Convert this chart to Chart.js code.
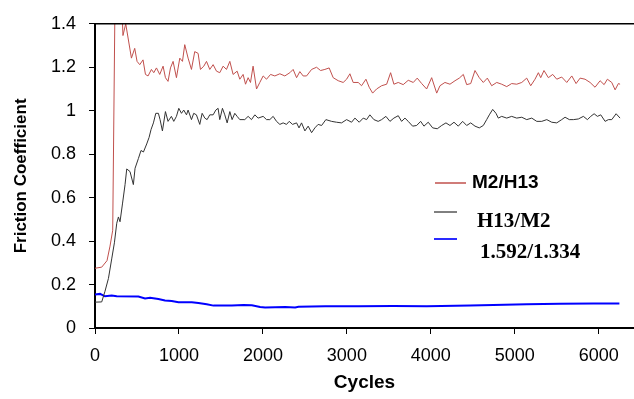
<!DOCTYPE html>
<html>
<head>
<meta charset="utf-8">
<script src="https://cdn.jsdelivr.net/npm/chart.js@4/dist/chart.umd.min.js"></script>
<style>
  html, body { margin: 0; padding: 0; background: #fff; }
  #wrap { width: 634px; height: 399px; }
</style>
</head>
<body>
<div id="wrap"><canvas id="frictionChart" width="634" height="399"></canvas></div>
<script>
// values (cycles / friction coefficient)
const redCycles = [0, 80, 143, 179, 211, 238, 270, 310, 333, 366, 434, 473, 501, 533, 572, 601, 632, 672, 700, 732, 771, 811, 839, 870, 899, 930, 970, 1010, 1042, 1069, 1109, 1149, 1188, 1228, 1256, 1296, 1328, 1367, 1407, 1447, 1486, 1526, 1566, 1606, 1645, 1693, 1725, 1764, 1793, 1824, 1852, 1883, 1924, 1963, 2003, 2043, 2091, 2142, 2202, 2261, 2321, 2360, 2401, 2440, 2479, 2520, 2580, 2639, 2687, 2738, 2789, 2837, 2897, 2956, 2997, 3036, 3075, 3135, 3175, 3227, 3266, 3307, 3354, 3414, 3474, 3521, 3560, 3612, 3671, 3731, 3791, 3838, 3891, 3950, 4010, 4070, 4109, 4168, 4228, 4288, 4339, 4387, 4427, 4475, 4526, 4577, 4625, 4673, 4725, 4785, 4844, 4904, 4963, 5023, 5083, 5142, 5190, 5241, 5281, 5309, 5348, 5400, 5452, 5500, 5559, 5619, 5679, 5730, 5778, 5837, 5897, 5956, 6016, 6064, 6103, 6155, 6195, 6234, 6254];
const redValues = [0.275, 0.28, 0.31, 0.377, 0.45, 1.5, 1.6, 1.6, 1.346, 1.40, 1.242, 1.287, 1.227, 1.212, 1.234, 1.167, 1.160, 1.19, 1.175, 1.197, 1.167, 1.205, 1.152, 1.135, 1.197, 1.227, 1.152, 1.242, 1.227, 1.304, 1.242, 1.19, 1.272, 1.264, 1.19, 1.205, 1.227, 1.19, 1.212, 1.182, 1.175, 1.205, 1.19, 1.227, 1.167, 1.182, 1.145, 1.167, 1.122, 1.152, 1.13, 1.205, 1.10, 1.13, 1.16, 1.145, 1.167, 1.16, 1.17, 1.16, 1.175, 1.19, 1.152, 1.18, 1.16, 1.16, 1.19, 1.20, 1.185, 1.19, 1.197, 1.152, 1.138, 1.13, 1.145, 1.17, 1.13, 1.13, 1.115, 1.145, 1.108, 1.081, 1.10, 1.115, 1.122, 1.175, 1.122, 1.13, 1.12, 1.14, 1.13, 1.15, 1.125, 1.10, 1.152, 1.081, 1.115, 1.13, 1.122, 1.138, 1.15, 1.167, 1.12, 1.125, 1.185, 1.152, 1.13, 1.15, 1.115, 1.13, 1.122, 1.111, 1.125, 1.122, 1.13, 1.15, 1.115, 1.145, 1.175, 1.152, 1.185, 1.152, 1.167, 1.145, 1.155, 1.13, 1.16, 1.125, 1.15, 1.145, 1.13, 1.108, 1.138, 1.12, 1.145, 1.13, 1.096, 1.125, 1.122];

const blackCycles = [0, 80, 119, 160, 199, 231, 259, 279, 298, 327, 358, 378, 417, 457, 477, 517, 548, 577, 616, 644, 668, 696, 724, 755, 775, 803, 839, 870, 910, 938, 970, 998, 1030, 1057, 1090, 1109, 1149, 1176, 1208, 1248, 1276, 1308, 1335, 1367, 1407, 1439, 1466, 1486, 1518, 1546, 1574, 1606, 1633, 1665, 1693, 1725, 1784, 1824, 1864, 1904, 1943, 2003, 2043, 2082, 2122, 2162, 2202, 2241, 2281, 2313, 2353, 2401, 2430, 2460, 2500, 2539, 2580, 2619, 2658, 2699, 2750, 2818, 2877, 2937, 2997, 3056, 3096, 3147, 3195, 3235, 3274, 3322, 3373, 3414, 3465, 3513, 3560, 3612, 3652, 3692, 3731, 3783, 3831, 3879, 3918, 3969, 4022, 4077, 4129, 4180, 4228, 4276, 4327, 4379, 4427, 4475, 4526, 4577, 4625, 4665, 4697, 4737, 4776, 4804, 4844, 4904, 4963, 5023, 5083, 5142, 5202, 5262, 5321, 5381, 5440, 5500, 5559, 5599, 5650, 5698, 5757, 5817, 5865, 5905, 5945, 5984, 6024, 6076, 6115, 6155, 6207, 6254];
const blackValues = [0.119, 0.12, 0.169, 0.228, 0.318, 0.392, 0.482, 0.511, 0.489, 0.571, 0.66, 0.732, 0.72, 0.66, 0.735, 0.78, 0.817, 0.81, 0.847, 0.877, 0.914, 0.944, 0.988, 0.988, 0.959, 0.907, 0.996, 0.951, 0.974, 0.951, 0.974, 1.011, 0.988, 1.003, 0.981, 1.003, 0.959, 0.988, 0.981, 0.937, 0.988, 0.966, 0.959, 0.981, 0.981, 1.003, 1.011, 0.959, 1.011, 0.981, 0.944, 0.996, 0.959, 0.988, 0.974, 0.959, 0.959, 0.974, 0.959, 0.981, 0.966, 0.974, 0.959, 0.959, 0.974, 0.951, 0.937, 0.944, 0.937, 0.951, 0.937, 0.944, 0.921, 0.944, 0.907, 0.929, 0.899, 0.921, 0.937, 0.932, 0.959, 0.951, 0.947, 0.944, 0.959, 0.947, 0.966, 0.947, 0.966, 0.959, 0.981, 0.959, 0.951, 0.959, 0.974, 0.951, 0.966, 0.977, 0.951, 0.966, 0.951, 0.929, 0.932, 0.951, 0.929, 0.947, 0.921, 0.917, 0.932, 0.944, 0.932, 0.947, 0.929, 0.951, 0.932, 0.944, 0.929, 0.921, 0.932, 0.959, 0.981, 1.006, 0.988, 0.966, 0.974, 0.966, 0.974, 0.966, 0.97, 0.959, 0.966, 0.951, 0.951, 0.959, 0.947, 0.944, 0.959, 0.97, 0.959, 0.959, 0.962, 0.974, 0.959, 0.974, 0.986, 0.974, 0.981, 0.951, 0.959, 0.959, 0.986, 0.966];

const blueCycles = [0, 60, 119, 199, 259, 517, 596, 656, 755, 834, 914, 994, 1153, 1232, 1331, 1411, 1630, 1769, 1868, 1967, 2026, 2265, 2384, 2424, 2742, 3140, 3550, 3950, 4467, 4744, 5142, 5539, 5936, 6246];
const blueValues = [0.154, 0.157, 0.146, 0.149, 0.146, 0.145, 0.136, 0.139, 0.133, 0.127, 0.124, 0.119, 0.119, 0.115, 0.109, 0.103, 0.103, 0.106, 0.105, 0.097, 0.094, 0.097, 0.094, 0.098, 0.10, 0.10, 0.101, 0.10, 0.103, 0.106, 0.109, 0.112, 0.113, 0.113];

const seriesNames = ['M2/H13', 'H13/M2', '1.592/1.334'];
const xTickValues = [0, 1000, 2000, 3000, 4000, 5000, 6000];
const yTickValues = [0, 0.2, 0.4, 0.6, 0.8, 1, 1.2, 1.4];

function toPoints(xs, ys) {
  return xs.map((x, i) => ({ x: x, y: ys[i] }));
}

// legend sits inside the plot, drawn by hand like the original
const legendPlugin = {
  id: 'insideLegend',
  afterDraw(chart) {
    const ctx = chart.ctx;
    const items = [
      { text: seriesNames[0], color: '#c0504d', width: 1.5, y: 183, x1: 435, x2: 466, tx: 472, base: 188, font: 'bold 19px "Liberation Sans", Arial, sans-serif' },
      { text: seriesNames[1], color: '#000000', width: 1, y: 212, x1: 434, x2: 457, tx: 477, base: 227, font: 'bold 21px "Liberation Serif", "Times New Roman", serif' },
      { text: seriesNames[2], color: '#2a2aff', width: 2, y: 239, x1: 434, x2: 457, tx: 480, base: 258, font: 'bold 21px "Liberation Serif", "Times New Roman", serif' }
    ];
    ctx.save();
    items.forEach(it => {
      ctx.strokeStyle = it.color;
      ctx.lineWidth = it.width;
      ctx.beginPath();
      ctx.moveTo(it.x1, it.y);
      ctx.lineTo(it.x2, it.y);
      ctx.stroke();
      ctx.fillStyle = '#000';
      ctx.font = it.font;
      ctx.textBaseline = 'alphabetic';
      ctx.fillText(it.text, it.tx, it.base);
    });
    // top frame line
    const area = chart.chartArea;
    ctx.strokeStyle = '#000';
    ctx.lineWidth = 1.5;
    ctx.beginPath();
    ctx.moveTo(area.left, area.top);
    ctx.lineTo(chart.width, area.top);
    ctx.stroke();
    ctx.restore();
  }
};

const tickFont = { family: '"Liberation Sans", Arial, sans-serif', size: 18 };

new Chart(document.getElementById('frictionChart'), {
  type: 'line',
  data: {
    datasets: [
      { label: seriesNames[0], data: toPoints(redCycles, redValues), borderColor: '#c0504d', borderWidth: 1, pointRadius: 0, tension: 0 },
      { label: seriesNames[1], data: toPoints(blackCycles, blackValues), borderColor: '#333333', borderWidth: 1, pointRadius: 0, tension: 0 },
      { label: seriesNames[2], data: toPoints(blueCycles, blueValues), borderColor: '#0000ff', borderWidth: 2, pointRadius: 0, tension: 0 }
    ]
  },
  options: {
    responsive: false,
    animation: false,
    layout: { padding: { top: 15, right: 0, bottom: 0, left: 0 } },
    plugins: { legend: { display: false }, tooltip: { enabled: false } },
    scales: {
      x: {
        type: 'linear',
        min: 0,
        max: 6420,
        afterBuildTicks: axis => { axis.ticks = xTickValues.map(v => ({ value: v })); },
        afterFit: axis => { axis.height = 71; },
        grid: { display: true, drawOnChartArea: false, drawTicks: true, tickLength: 6, color: '#000', lineWidth: 1 },
        border: { display: true, color: '#000', width: 2 },
        ticks: { color: '#000', font: tickFont, padding: 11, maxRotation: 0, callback: v => String(v) },
        title: { display: true, text: 'Cycles', color: '#000', font: { family: '"Liberation Sans", Arial, sans-serif', size: 19, weight: 'bold' }, padding: { top: 0, bottom: 5 } }
      },
      y: {
        min: 0,
        max: 1.4,
        afterBuildTicks: axis => { axis.ticks = yTickValues.map(v => ({ value: v })); },
        afterFit: axis => { axis.width = 95; },
        grid: { display: true, drawOnChartArea: false, drawTicks: true, tickLength: 6, color: '#000', lineWidth: 1 },
        border: { display: true, color: '#000', width: 2 },
        ticks: { color: '#000', font: tickFont, padding: 13, callback: v => String(v) },
        title: { display: true, text: 'Friction Coefficient', color: '#000', font: { family: '"Liberation Sans", Arial, sans-serif', size: 17, weight: 'bold' }, padding: { top: 11, bottom: 0 } }
      }
    }
  },
  plugins: [legendPlugin]
});
</script>
</body>
</html>
